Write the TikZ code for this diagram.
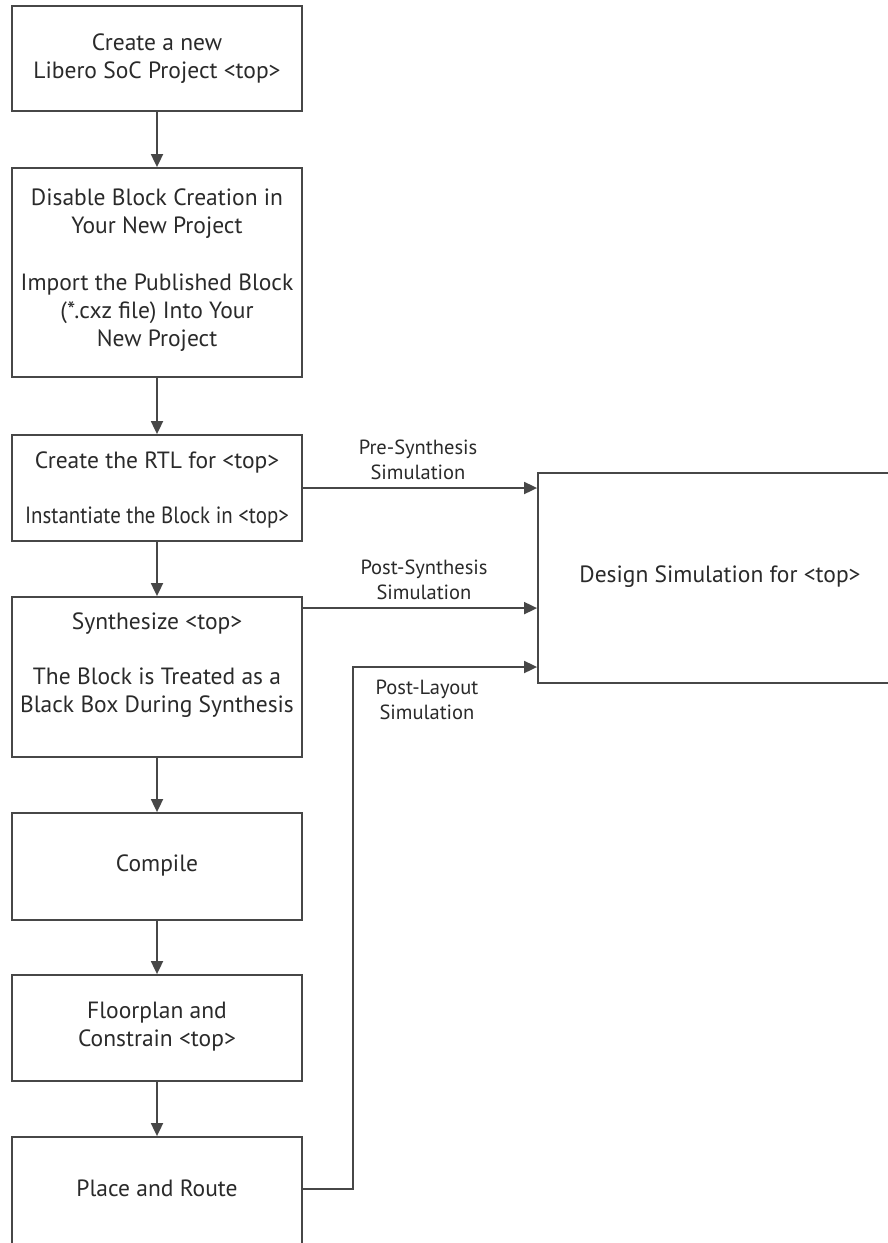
\documentclass[tikz,border=0pt]{standalone}
\usepackage{graphicx}
\usepackage{fontspec}
\setmainfont{PT Sans}
\usetikzlibrary{arrows.meta,calc}
\definecolor{ln}{HTML}{474747}
\definecolor{tx}{HTML}{2a2a2a}
\begin{document}
\begin{tikzpicture}[x=1pt,y=-1pt,
  box/.style={draw=ln,line width=1.8pt,rectangle,inner sep=0pt,anchor=center},
  txt/.style={text=tx,align=center,font=\fontsize{23.5}{28}\selectfont,inner sep=0pt},
  lab/.style={text=tx,align=center,font=\fontsize{20.5}{25}\selectfont,inner sep=0pt},
  arr/.style={draw=ln,line width=1.8pt,-{Triangle[length=13pt,width=12pt]}},
  wire/.style={draw=ln,line width=1.8pt}]
\useasboundingbox (0,0) rectangle (888,1243);
\clip (0,0) rectangle (888,1243);
\fill[white] (0,0) rectangle (888,1243);
% boxes
\node[box,minimum width=290pt,minimum height=105pt] (b1) at (157,58.5) {};
\node[box,minimum width=290pt,minimum height=209pt] (b2) at (157,272.5) {};
\node[box,minimum width=290pt,minimum height=106pt] (b3) at (157,488) {};
\node[box,minimum width=290pt,minimum height=160pt] (b4) at (157,677) {};
\node[box,minimum width=290pt,minimum height=107pt] (b5) at (157,866.5) {};
\node[box,minimum width=290pt,minimum height=106pt] (b6) at (157,1028) {};
\node[box,minimum width=290pt,minimum height=120pt] (b7) at (157,1197) {};
\node[box,minimum width=362pt,minimum height=210pt] (ds) at (719,578) {};
% texts
\node[txt] (t1) at (157,58.5) {Create a new\\Libero SoC Project <top>};
\node[txt] (t2) at (157,270) {Disable Block Creation in\\Your New Project\\[29pt]Import the Published Block\\(*.cxz file) Into Your\\New Project};
\node[txt] (t3) at (157,489.5) {Create the RTL for <top>\\[27pt]\scalebox{0.89}[1]{Instantiate the Block in <top>}};
\node[txt] (t4) at (157,665) {Synthesize <top>\\[27pt]The Block is Treated as a\\Black Box During Synthesis};
\node[txt] (t5) at (157,865) {Compile};
\node[txt] (t6) at (157,1027) {Floorplan and\\Constrain <top>};
\node[txt] (t7) at (157,1188) {Place and Route};
\node[txt] (t8) at (720,577) {Design Simulation for <top>};
% flow arrows
\draw[arr] (b1.south) -- (b2.north);
\draw[arr] (b2.south) -- (b3.north);
\draw[arr] (b3.south) -- (b4.north);
\draw[arr] (b4.south) -- (b5.north);
\draw[arr] (b5.south) -- (b6.north);
\draw[arr] (b6.south) -- (b7.north);
% simulation arrows
\coordinate (c1) at (b3.east);
\coordinate (c2) at ($(b4.north east)+(0,12)$);
\coordinate (c3) at (353,667);
\draw[arr] (c1) -- (ds.west |- c1);
\draw[arr] (c2) -- (ds.west |- c2);
\draw[arr] (b7.east |- 0,1189) -| (c3) -- (ds.west |- c3);
% labels
\node[lab] (l1) at (418,460) {Pre-Synthesis\\Simulation};
\node[lab] (l2) at (424,580) {Post-Synthesis\\Simulation};
\node[lab] (l3) at (427,700) {Post-Layout\\Simulation};
\end{tikzpicture}
\end{document}
